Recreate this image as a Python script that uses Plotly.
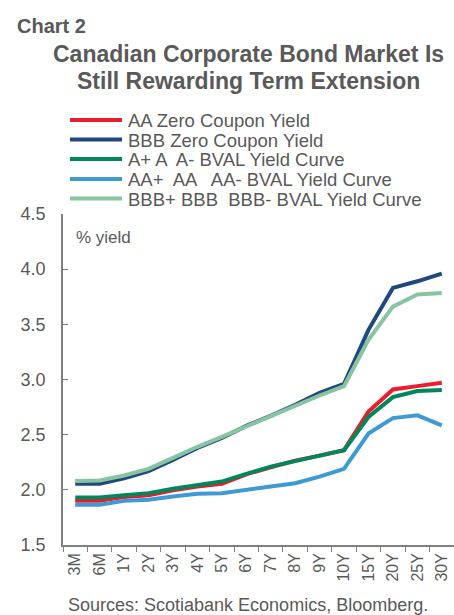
import plotly.graph_objects as go

# tenors on the x axis
tenors = ['3M', '6M', '1Y', '2Y', '3Y', '4Y', '5Y', '6Y', '7Y', '8Y',
          '9Y', '10Y', '15Y', '20Y', '25Y', '30Y']

# yields, %
aa_zero = [1.90, 1.90, 1.935, 1.95, 1.995, 2.03, 2.055, 2.14, 2.205, 2.265,
           2.31, 2.36, 2.71, 2.91, 2.94, 2.97]
bbb_zero = [2.055, 2.055, 2.105, 2.17, 2.27, 2.38, 2.47, 2.58, 2.67, 2.77,
            2.88, 2.96, 3.45, 3.83, 3.89, 3.96]
a_bval = [1.93, 1.93, 1.95, 1.97, 2.01, 2.045, 2.075, 2.145, 2.21, 2.26,
          2.31, 2.36, 2.66, 2.84, 2.895, 2.905]
aa_bval = [1.865, 1.865, 1.90, 1.91, 1.94, 1.965, 1.97, 2.00, 2.03, 2.06,
           2.12, 2.19, 2.51, 2.65, 2.675, 2.585]
bbb_bval = [2.08, 2.085, 2.13, 2.19, 2.29, 2.39, 2.48, 2.575, 2.665, 2.76,
            2.855, 2.94, 3.36, 3.66, 3.77, 3.785]

series_names = ['AA Zero Coupon Yield', 'BBB Zero Coupon Yield',
                'A+ A  A- BVAL Yield Curve', 'AA+  AA   AA- BVAL Yield Curve',
                'BBB+ BBB  BBB- BVAL Yield Curve']
series_values = [aa_zero, bbb_zero, a_bval, aa_bval, bbb_bval]
colors = ['#EC1C2E', '#1F497D', '#00875A', '#3E9AD3', '#89C4A0']

W, H = 454, 615
L, R, T, B = 63, 0, 214, 70
GREY = '#595959'
FONT = 'Liberation Sans, Arial, sans-serif'


def px_x(x):
    # pixel -> paper x
    return (x - L) / (W - L - R)


def px_y(y):
    # pixel -> paper y
    return (H - B - y) / (H - T - B)


fig = go.Figure()
for name, vals, col in zip(series_names, series_values, colors):
    fig.add_trace(go.Scatter(x=tenors, y=vals, name=name, mode='lines',
                             line=dict(color=col, width=4), showlegend=False))

# hand-made legend so the spacing matches
shapes = []
annotations = []
row_y = [120, 139.5, 159, 179, 198.5]
for name, col, y in zip(series_names, colors, row_y):
    shapes.append(dict(type='line', xref='paper', yref='paper',
                       x0=px_x(70), x1=px_x(122), y0=px_y(y), y1=px_y(y),
                       line=dict(color=col, width=4)))
    annotations.append(dict(xref='paper', yref='paper', x=px_x(126), y=px_y(y + 0.5),
                            xanchor='left', yanchor='middle', showarrow=False,
                            text=name, font=dict(size=18.5, color=GREY, family=FONT)))

annotations += [
    dict(xref='paper', yref='paper', x=px_x(15), y=px_y(25.5), xanchor='left',
         yanchor='middle', showarrow=False, text='<b>Chart 2</b>',
         font=dict(size=20, color=GREY, family='Liberation Sans Narrow, Arial Narrow, sans-serif')),
    dict(xref='paper', yref='paper', x=px_x(248), y=px_y(54), xanchor='center',
         yanchor='middle', showarrow=False, text='<b>Canadian Corporate Bond Market Is</b>',
         font=dict(size=23, color=GREY, family=FONT)),
    dict(xref='paper', yref='paper', x=px_x(248), y=px_y(81), xanchor='center',
         yanchor='middle', showarrow=False, text='<b>Still Rewarding Term Extension</b>',
         font=dict(size=23, color=GREY, family=FONT)),
    dict(xref='paper', yref='paper', x=px_x(74), y=px_y(237), xanchor='left',
         yanchor='middle', showarrow=False, text='% yield',
         font=dict(size=17, color=GREY, family=FONT)),
    dict(xref='paper', yref='paper', x=px_x(248), y=px_y(605), xanchor='center',
         yanchor='middle', showarrow=False, text='Sources: Scotiabank Economics, Bloomberg.',
         font=dict(size=18, color=GREY, family=FONT)),
]

fig.update_layout(
    width=W, height=H,
    margin=dict(l=L, r=R, t=T, b=B, autoexpand=False),
    paper_bgcolor='white', plot_bgcolor='white',
    font=dict(family=FONT, color=GREY),
    shapes=shapes, annotations=annotations,
    showlegend=False,
)
fig.update_xaxes(type='category', showgrid=False, showline=True, linecolor='#7f7f7f',
                 linewidth=1.5, ticks='outside', ticklen=5, tickcolor='#7f7f7f',
                 tickson='boundaries', tickangle=-90, ticklabelstandoff=0,
                 tickfont=dict(size=16, color=GREY), range=[-0.5, 15.5])
fig.update_yaxes(range=[1.5, 4.5], dtick=0.5, tickformat='.1f', showgrid=False,
                 zeroline=False, showline=True, linecolor='#7f7f7f', linewidth=1.5,
                 ticks='inside', ticklen=5, tickcolor='#7f7f7f', ticklabelstandoff=12,
                 tickfont=dict(size=18, color=GREY))

fig.write_html('out.html', config={'displayModeBar': False},
               post_script="document.body.style.margin='0';document.body.style.overflow='hidden';")
